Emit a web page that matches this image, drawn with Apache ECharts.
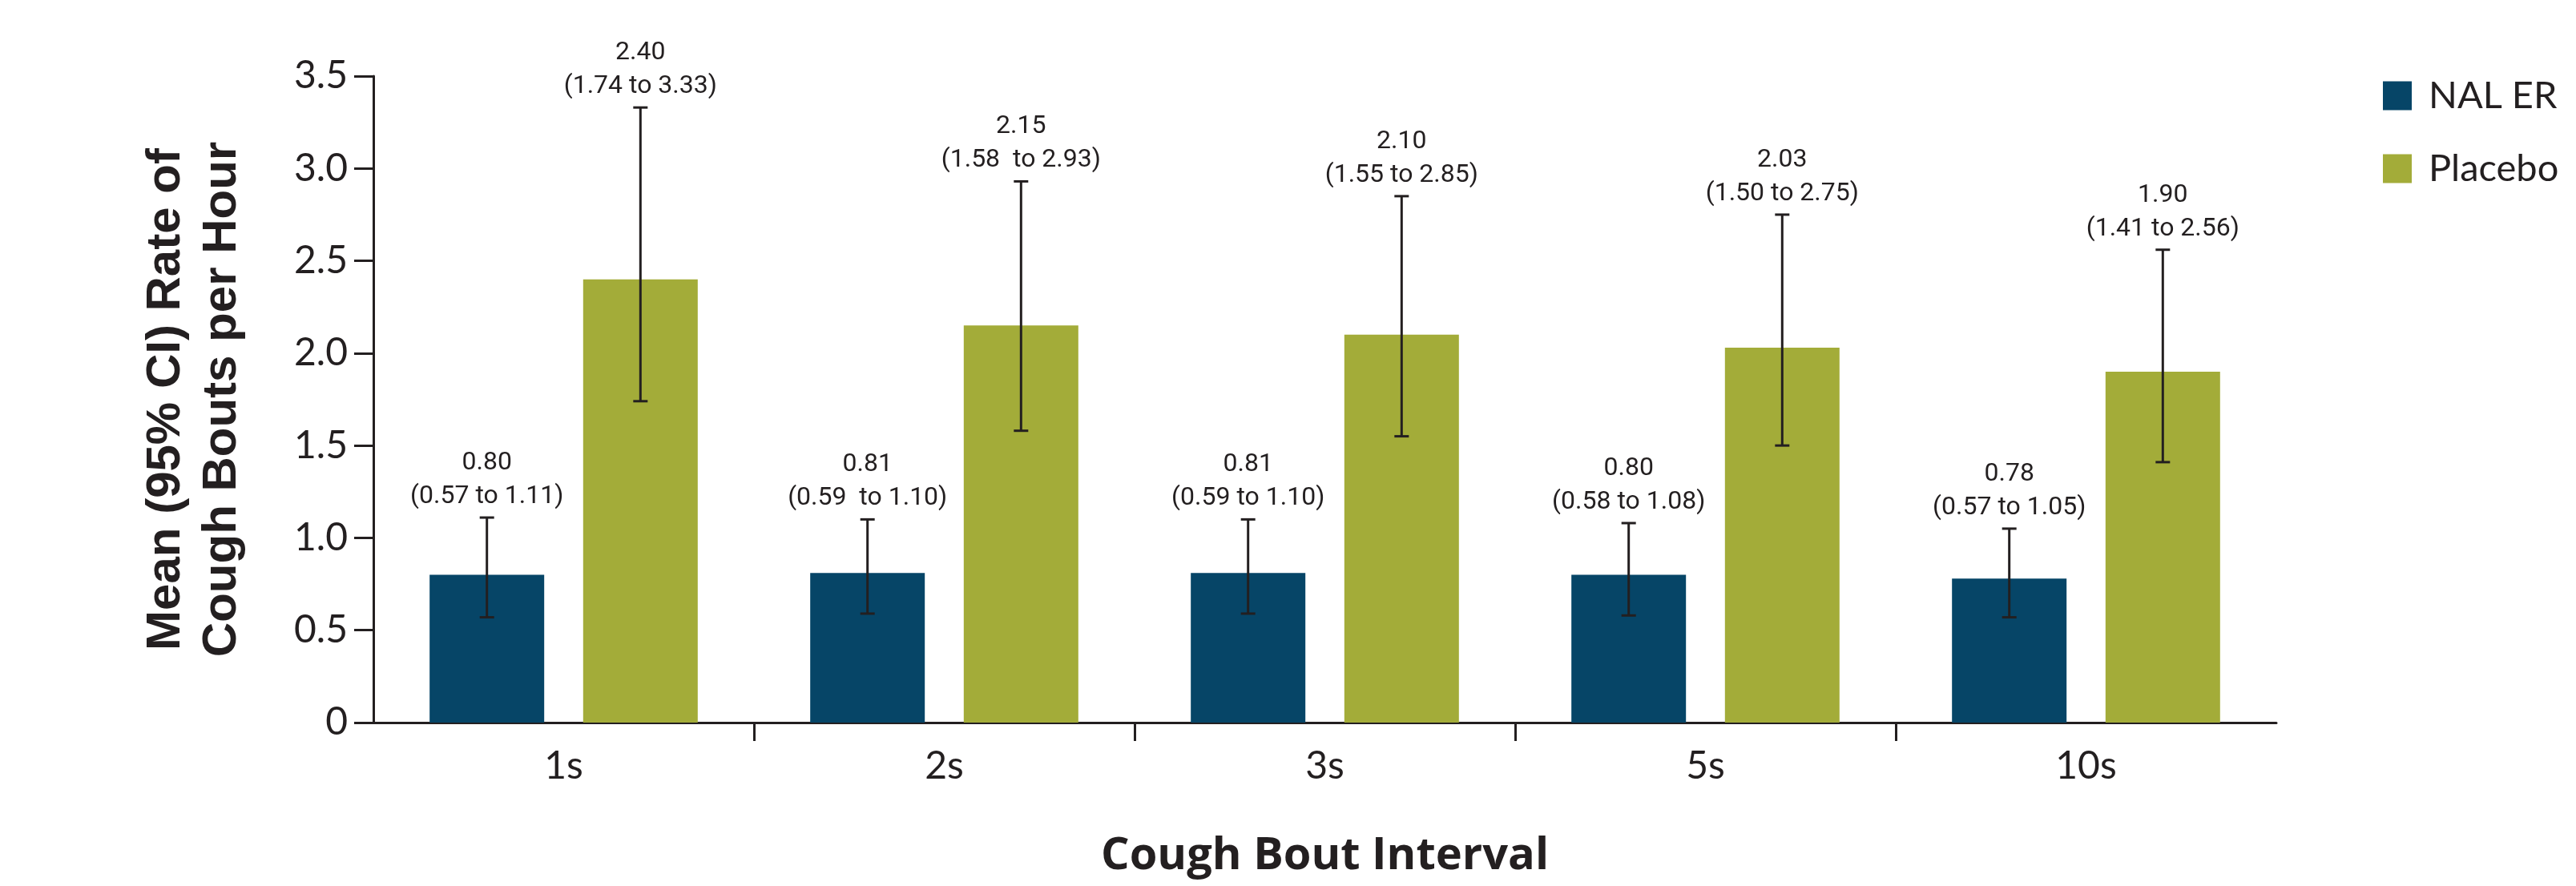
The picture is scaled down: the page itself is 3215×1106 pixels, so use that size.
<!DOCTYPE html>
<html>
<head>
<meta charset="utf-8">
<script src="https://cdn.jsdelivr.net/npm/echarts@6/dist/echarts.min.js"></script>
<style>
html,body{margin:0;padding:0;background:#fff;}
#chart{width:3215px;height:1106px;}
</style>
</head>
<body>
<div id="chart"></div>
<script>
// ---- data ----
const categories = ['1s', '2s', '3s', '5s', '10s'];
const nalMean = [0.80, 0.81, 0.81, 0.80, 0.78];
const nalLow  = [0.57, 0.59, 0.59, 0.58, 0.57];
const nalHigh = [1.11, 1.10, 1.10, 1.08, 1.05];
const plaMean = [2.40, 2.15, 2.10, 2.03, 1.90];
const plaLow  = [1.74, 1.58, 1.55, 1.50, 1.41];
const plaHigh = [3.33, 2.93, 2.85, 2.75, 2.56];
const nalLabels = ['0.80\n(0.57 to 1.11)', '0.81\n(0.59  to 1.10)', '0.81\n(0.59 to 1.10)', '0.80\n(0.58 to 1.08)', '0.78\n(0.57 to 1.05)'];
const plaLabels = ['2.40\n(1.74 to 3.33)', '2.15\n(1.58  to 2.93)', '2.10\n(1.55 to 2.85)', '2.03\n(1.50 to 2.75)', '1.90\n(1.41 to 2.56)'];
const yTicks = [0, 0.5, 1.0, 1.5, 2.0, 2.5, 3.0, 3.5];
const seriesNames = ['NAL ER', 'Placebo'];

// ---- style ----
const INK = '#231f20';
const BAR_W = 143;
const BAR_GAP = 0.34;
const colors = ['#064567', '#a3ac39'];

function errSeries(lo, hi, labels, side) {
  return {
    type: 'custom',
    name: seriesNames[side < 0 ? 0 : 1] + ' CI',
    xAxisIndex: 0, yAxisIndex: 0,
    z: 5,
    encode: { x: 0, y: [1, 2] },
    data: lo.map((v, i) => [i, v, hi[i]]),
    renderItem: function (params, api) {
      const i = api.value(0);
      const off = side * BAR_W * (1 + BAR_GAP) / 2;
      const pLo = api.coord([i, api.value(1)]);
      const pHi = api.coord([i, api.value(2)]);
      const x = pLo[0] + off;
      const cap = 9;
      const ls = { stroke: INK, lineWidth: 3 };
      return {
        type: 'group',
        children: [
          { type: 'line', shape: { x1: x, y1: pLo[1], x2: x, y2: pHi[1] }, style: ls },
          { type: 'line', shape: { x1: x - cap, y1: pLo[1], x2: x + cap, y2: pLo[1] }, style: ls },
          { type: 'line', shape: { x1: x - cap, y1: pHi[1], x2: x + cap, y2: pHi[1] }, style: ls },
          { type: 'text', style: {
              text: labels[i], x: x, y: pHi[1] - 5,
              align: 'center', verticalAlign: 'bottom',
              fontSize: 32, fontFamily: 'Roboto', fill: INK, lineHeight: 42
          } }
        ]
      };
    }
  };
}

const chart = echarts.init(document.getElementById('chart'), null, { renderer: 'canvas' });
chart.setOption({
  animation: false,
  backgroundColor: '#ffffff',
  grid: { left: 466, right: 374, top: 95, bottom: 204, containLabel: false },
  legend: {
    data: seriesNames,
    orient: 'vertical',
    left: 2969, top: 91,
    itemWidth: 36, itemHeight: 36, itemGap: 44,
    icon: 'rect',
    textStyle: { fontSize: 47, fontFamily: 'Lato', color: INK, padding: [0, 0, 0, 16] }
  },
  xAxis: [{
    type: 'category',
    data: categories,
    position: 'bottom',
    axisLine: { show: true, lineStyle: { color: INK, width: 3 } },
    axisTick: { show: false },
    axisLabel: { fontSize: 48, fontFamily: 'Lato', color: INK, margin: 31 },
    name: 'Cough Bout Interval',
    nameLocation: 'middle',
    nameGap: 139,
    nameTextStyle: { fontSize: 56, fontWeight: 'bold', fontFamily: 'Open Sans', color: INK }
  }, {
    type: 'value',
    min: 0, max: categories.length,
    position: 'bottom',
    axisLine: { show: false },
    axisLabel: { show: false },
    splitLine: { show: false },
    axisTick: { show: true, length: 23, customValues: [1, 2, 3, 4], lineStyle: { color: INK, width: 3 } }
  }],
  yAxis: {
    type: 'value',
    min: 0, max: 3.5, interval: 0.5,
    axisLine: { show: true, lineStyle: { color: INK, width: 3 } },
    axisTick: { show: true, length: 24, lineStyle: { color: INK, width: 3 } },
    splitLine: { show: false },
    axisLabel: {
      fontSize: 48, fontFamily: 'Lato', color: INK, margin: 32,
      formatter: v => (v === 0 ? '0' : v.toFixed(1))
    },
    name: 'Mean (95% CI) Rate of\nCough Bouts per Hour',
    nameLocation: 'middle',
    nameRotate: 90,
    nameGap: 154,
    nameTextStyle: { fontSize: 60, fontWeight: 'bold', fontFamily: 'Liberation Sans', color: INK, lineHeight: 70 }
  },
  series: [
    { type: 'bar', name: seriesNames[0], data: nalMean, barWidth: BAR_W, barGap: (BAR_GAP * 100) + '%', itemStyle: { color: colors[0] }, z: 2 },
    { type: 'bar', name: seriesNames[1], data: plaMean, barWidth: BAR_W, barGap: (BAR_GAP * 100) + '%', itemStyle: { color: colors[1] }, z: 2 },
    errSeries(nalLow, nalHigh, nalLabels, -1),
    errSeries(plaLow, plaHigh, plaLabels, 1)
  ]
});
</script>
</body>
</html>
